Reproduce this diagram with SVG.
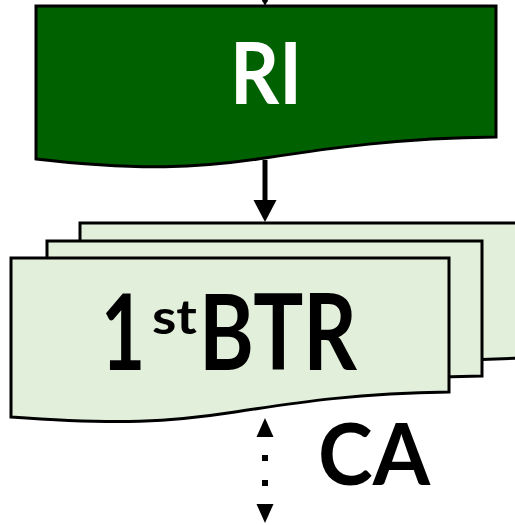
<svg xmlns="http://www.w3.org/2000/svg" width="515" height="525" viewBox="0 0 515 525">
<style>
.doc{fill:#E2EFDA;stroke:#000;stroke-width:3;stroke-linejoin:miter}
.ri{fill:#006100;stroke:#000;stroke-width:3}
.lbl{font-family:Lato,"Open Sans",sans-serif;font-weight:bold}
.conn{stroke:#000;stroke-width:5;fill:none}
</style>
<rect width="515" height="525" fill="#fff"/>
<g id="connectors">
<line class="conn" x1="265" y1="0" x2="265" y2="2"/>
<polygon points="262,0 268,0 265,6" fill="#000"/>
<line class="conn" x1="265" y1="160" x2="265" y2="202"/>
<polygon points="253.5,200 276.5,200 265,222" fill="#000"/>
<line x1="265" y1="436" x2="265" y2="506" stroke="#000" stroke-width="6" stroke-dasharray="6 19" stroke-dashoffset="6"/>
<polygon points="256.5,437 273.5,437 265,418" fill="#000"/>
<polygon points="256.5,504 273.5,504 265,523" fill="#000"/>
</g>
<g id="RI">
<path class="ri" d="M36,6 H496 V137 C400,138 330,148 265,158 C200,168 140,171 36,159 Z"/>
<text class="lbl" x="230" y="104" font-size="86" fill="#fff" textLength="72" lengthAdjust="spacingAndGlyphs">RI</text>
</g>
<g id="BTR">
<path class="doc" d="M80,223 H530 V358 C430,360 360,368 300,378 L80,378 Z"/>
<path class="doc" d="M47,241 H482 V376 C390,377 330,386 265,396 L47,396 Z"/>
<path class="doc" d="M11,258 H449 V392 C360,393 300,402 235,412 C170,422 120,425 11,417 Z"/>
<text class="lbl" transform="translate(101,370) scale(0.72,1)" font-size="106" fill="#000">1</text>
<text class="lbl" x="152" y="334" font-size="48" fill="#000" textLength="45" lengthAdjust="spacingAndGlyphs">st</text>
<text class="lbl" x="199" y="370" font-size="106" fill="#000" textLength="158" lengthAdjust="spacingAndGlyphs">BTR</text>
</g>
<g id="CA">
<text class="lbl" x="318" y="485" font-size="86" fill="#000" textLength="112" lengthAdjust="spacingAndGlyphs">CA</text>
</g>
</svg>
